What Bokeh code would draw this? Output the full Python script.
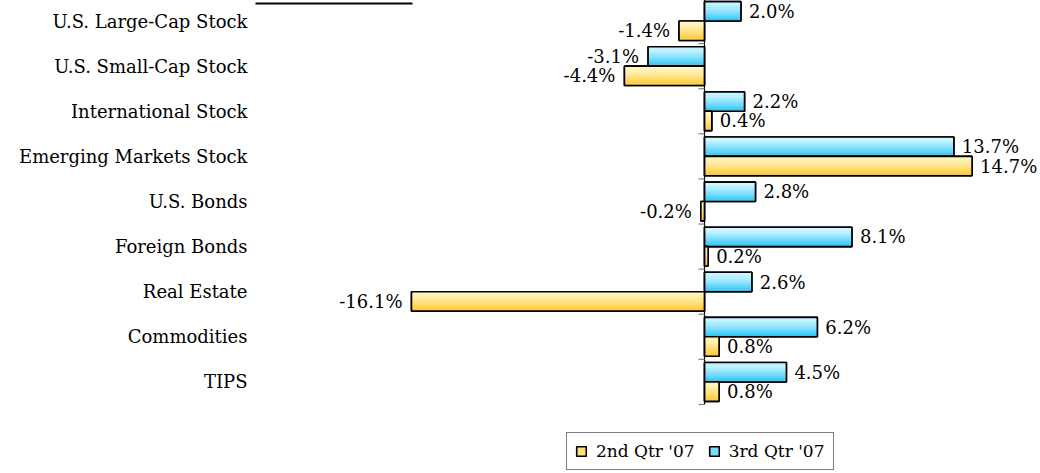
from bokeh.plotting import figure
from bokeh.models import FixedTicker, Legend, LegendItem, BoxAnnotation
from bokeh.core.properties import value
from bokeh.embed import file_html
from bokeh.resources import INLINE

categories = ["U.S. Large-Cap Stock", "U.S. Small-Cap Stock", "International Stock",
              "Emerging Markets Stock", "U.S. Bonds", "Foreign Bonds", "Real Estate",
              "Commodities", "TIPS"]
q2_values = [-1.4, -4.4, 0.4, 14.7, -0.2, 0.2, -16.1, 0.8, 0.8]
q3_values = [2.0, -3.1, 2.2, 13.7, 2.8, 8.1, 2.6, 6.2, 4.5]
series_names = ["2nd Qtr '07", "3rd Qtr '07"]

FONT = value("DejaVu Serif")
n = len(categories)
centers = [n - 1 - i for i in range(n)]
BAR_H = 0.43
OFF = 0.215

p = figure(width=1040, height=475, x_range=(-24.67, 18.46), y_range=(-2.03, n - 0.5),
           output_backend="svg", toolbar_location=None,
           min_border_left=255, min_border_right=0, min_border_top=0, min_border_bottom=0,
           margin=(-2, 0, 0, 0))
p.outline_line_color = None
p.xgrid.visible = False
p.ygrid.visible = False
p.xaxis.visible = False

p.yaxis.ticker = FixedTicker(ticks=centers)
p.yaxis.major_label_overrides = {c: name for c, name in zip(centers, categories)}
p.yaxis.axis_line_color = None
p.yaxis.major_tick_line_color = None
p.yaxis.minor_tick_line_color = None
p.yaxis.major_tick_out = 0
p.yaxis.major_label_standoff = 8
p.yaxis.major_label_text_font = "DejaVu Serif"
p.yaxis.major_label_text_font_size = "18px"
p.yaxis.major_label_text_color = "black"


def hex2rgb(h):
    h = h.lstrip("#")
    return tuple(int(h[i:i + 2], 16) for i in (0, 2, 4))


def mix(a, b, t):
    ra, rb = hex2rgb(a), hex2rgb(b)
    return "#%02x%02x%02x" % tuple(round(x + (y - x) * t) for x, y in zip(ra, rb))


def gradient_bars(vals, offset, top, bottom, k=10):
    ybar = [c + offset for c in centers]
    # base layer (also used as the legend swatch)
    base = p.hbar(y=ybar, left=0, right=vals, height=BAR_H, fill_color=mix(top, bottom, 0.55),
                  line_color="black", line_width=1.6)
    ys, rights, cols = [], [], []
    for yc, v in zip(ybar, vals):
        for j in range(k):
            t = (j / (k - 1)) ** 1.3
            ys.append(yc + BAR_H / 2 - (j + 0.5) * BAR_H / k)
            rights.append(v)
            cols.append(mix(top, bottom, t))
    p.hbar(y=ys, left=0, right=rights, height=BAR_H / k + 0.002, fill_color=cols,
           line_color=None)
    p.hbar(y=ybar, left=0, right=vals, height=BAR_H,
           fill_alpha=0, line_color="black", line_width=1.6)
    return base


r3 = gradient_bars(q3_values, OFF, "#d8f8ff", "#2ec6f6")
r2 = gradient_bars(q2_values, -OFF, "#fff8cc", "#ffc830")

# zero axis and band-boundary ticks
p.segment(x0=[0], x1=[0], y0=[-0.5], y1=[n - 0.5], line_color="black", line_width=1.2)
bounds = [c - 0.5 for c in centers]
p.segment(x0=[0] * n, x1=[-0.33] * n, y0=bounds, y1=bounds, line_color="#808080",
          line_width=1.2)


def labels(vals, offset):
    pos = [(v, c + offset) for v, c in zip(vals, centers) if v >= 0]
    neg = [(v, c + offset) for v, c in zip(vals, centers) if v < 0]
    for group, align, dx in ((pos, "left", 8), (neg, "right", -9)):
        p.text(x=[g[0] for g in group], y=[g[1] for g in group],
               text=["%.1f%%" % g[0] for g in group], text_align=align,
               text_baseline="middle", x_offset=dx, text_font=FONT,
               text_font_size="18px", text_color="black")


labels(q3_values, OFF)
labels(q2_values, -OFF)

legend = Legend(items=[LegendItem(label=series_names[0], renderers=[r2]),
                       LegendItem(label=series_names[1], renderers=[r3])],
                location=(311, 3), orientation="horizontal",
                glyph_width=12, glyph_height=12, label_standoff=9, spacing=13,
                padding=8, margin=0, label_height=16,
                label_text_font="DejaVu Serif", label_text_font_size="17px",
                label_text_color="black", border_line_color="black", border_line_width=1,
                background_fill_color="white", background_fill_alpha=1)
p.add_layout(legend)

# underline of the (cropped) title
p.add_layout(BoxAnnotation(left=10, right=412, top=4, bottom=6, left_units="canvas",
                           right_units="canvas", top_units="canvas", bottom_units="canvas",
                           fill_color="black", fill_alpha=1, line_color=None))

open("out.html", "w").write(file_html(p, INLINE))
